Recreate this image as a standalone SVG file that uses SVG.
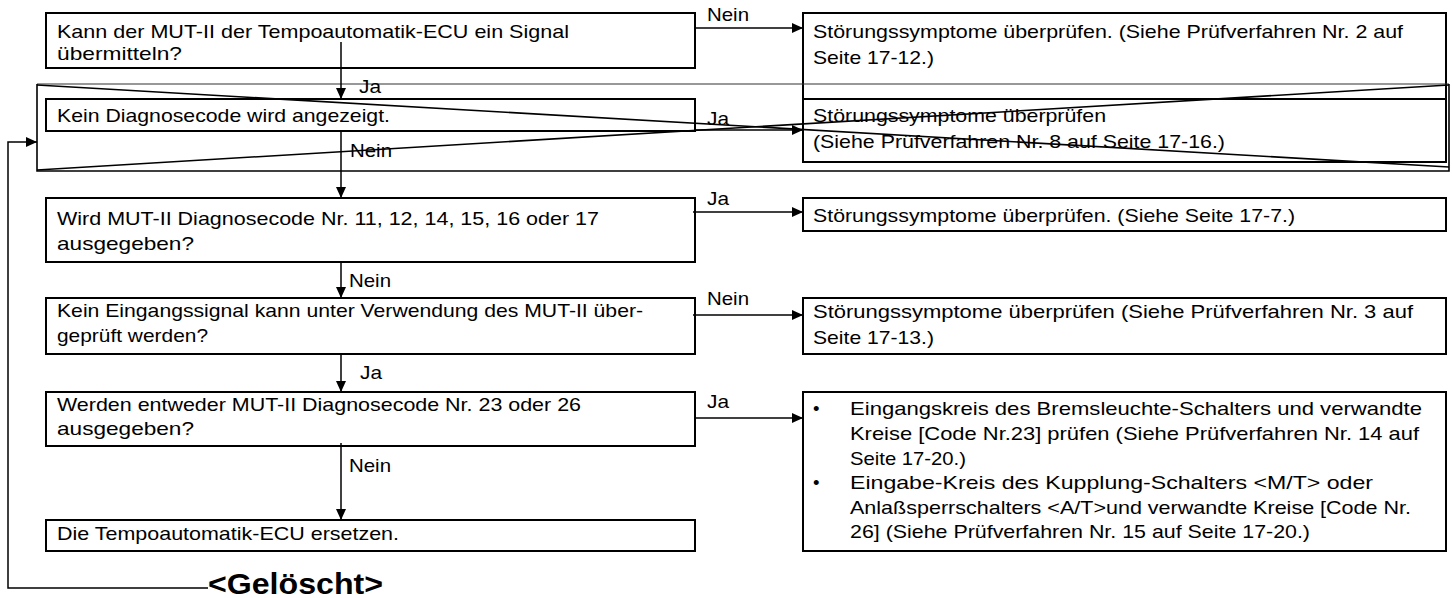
<svg xmlns="http://www.w3.org/2000/svg" width="1452" height="598" viewBox="0 0 1452 598">
<style>
.box{fill:#fff;stroke:#000;stroke-width:2}
.t{font-family:"Liberation Sans",Arial,sans-serif;font-size:18.5px;fill:#000}
.lbl{font-family:"Liberation Sans",Arial,sans-serif;font-size:18.5px;fill:#000}
.big{font-family:"Liberation Sans",Arial,sans-serif;font-size:30px;font-weight:bold;fill:#000}
.c{stroke:#000;stroke-width:1.5;fill:none}
.x{stroke:#000;stroke-width:1.6;fill:none}
</style>
<defs>
<marker id="ah" markerUnits="userSpaceOnUse" markerWidth="11" markerHeight="10" refX="11" refY="5" orient="auto">
<path d="M0,0 L11,5 L0,10 z" fill="#000"/>
</marker>
</defs>
<rect width="1452" height="598" fill="#fff"/>

<g id="q1">
<rect class="box" x="46" y="13" width="649" height="55"/>
<text class="t" x="57" y="38" textLength="512" lengthAdjust="spacingAndGlyphs">Kann der MUT-II der Tempoautomatik-ECU ein Signal</text>
<text class="t" x="57" y="60" textLength="125" lengthAdjust="spacingAndGlyphs">übermitteln?</text>
</g>
<g id="r1">
<rect class="box" x="803" y="13" width="643" height="86"/>
<text class="t" x="813" y="38" textLength="590" lengthAdjust="spacingAndGlyphs">Störungssymptome überprüfen. (Siehe Prüfverfahren Nr. 2 auf</text>
<text class="t" x="813" y="64" textLength="121" lengthAdjust="spacingAndGlyphs">Seite 17-12.)</text>
</g>
<g id="q2">
<rect class="box" x="46" y="99" width="649" height="32"/>
<text class="t" x="57" y="122" textLength="333" lengthAdjust="spacingAndGlyphs">Kein Diagnosecode wird angezeigt.</text>
</g>
<g id="r2">
<rect class="box" x="803" y="99" width="643" height="63"/>
<text class="t" x="813" y="122" textLength="293" lengthAdjust="spacingAndGlyphs">Störungssymptome überprüfen</text>
<text class="t" x="813" y="148" textLength="412" lengthAdjust="spacingAndGlyphs">(Siehe Prüfverfahren Nr. 8 auf Seite 17-16.)</text>
</g>
<g id="q3">
<rect class="box" x="46" y="198" width="649" height="64"/>
<text class="t" x="57" y="225" textLength="542" lengthAdjust="spacingAndGlyphs">Wird MUT-II Diagnosecode Nr. 11, 12, 14, 15, 16 oder 17</text>
<text class="t" x="57" y="250" textLength="137" lengthAdjust="spacingAndGlyphs">ausgegeben?</text>
</g>
<g id="r3">
<rect class="box" x="803" y="198" width="643" height="33"/>
<text class="t" x="813" y="222" textLength="482" lengthAdjust="spacingAndGlyphs">Störungssymptome überprüfen. (Siehe Seite 17-7.)</text>
</g>
<g id="q4">
<rect class="box" x="46" y="298" width="649" height="56"/>
<text class="t" x="57" y="317" textLength="586" lengthAdjust="spacingAndGlyphs">Kein Eingangssignal kann unter Verwendung des MUT-II über-</text>
<text class="t" x="57" y="342" textLength="151" lengthAdjust="spacingAndGlyphs">geprüft werden?</text>
</g>
<g id="r4">
<rect class="box" x="803" y="298" width="643" height="56"/>
<text class="t" x="813" y="318" textLength="600" lengthAdjust="spacingAndGlyphs">Störungssymptome überprüfen (Siehe Prüfverfahren Nr. 3 auf</text>
<text class="t" x="813" y="344" textLength="121" lengthAdjust="spacingAndGlyphs">Seite 17-13.)</text>
</g>
<g id="q5">
<rect class="box" x="46" y="392" width="649" height="54"/>
<text class="t" x="57" y="411" textLength="524" lengthAdjust="spacingAndGlyphs">Werden entweder MUT-II Diagnosecode Nr. 23 oder 26</text>
<text class="t" x="57" y="435" textLength="137" lengthAdjust="spacingAndGlyphs">ausgegeben?</text>
</g>
<g id="r5">
<rect class="box" x="803" y="392" width="643" height="159"/>
<text class="t" x="813" y="415">•</text>
<text class="t" x="850" y="415" textLength="572" lengthAdjust="spacingAndGlyphs">Eingangskreis des Bremsleuchte-Schalters und verwandte</text>
<text class="t" x="850" y="440" textLength="569" lengthAdjust="spacingAndGlyphs">Kreise [Code Nr.23] prüfen (Siehe Prüfverfahren Nr. 14 auf</text>
<text class="t" x="850" y="465" textLength="116" lengthAdjust="spacingAndGlyphs">Seite 17-20.)</text>
<text class="t" x="813" y="489">•</text>
<text class="t" x="850" y="489" textLength="523" lengthAdjust="spacingAndGlyphs">Eingabe-Kreis des Kupplung-Schalters &lt;M/T&gt; oder</text>
<text class="t" x="850" y="514" textLength="561" lengthAdjust="spacingAndGlyphs">Anlaßsperrschalters &lt;A/T&gt;und verwandte Kreise [Code Nr.</text>
<text class="t" x="850" y="538" textLength="460" lengthAdjust="spacingAndGlyphs">26] (Siehe Prüfverfahren Nr. 15 auf Seite 17-20.)</text>
</g>
<g id="q6">
<rect class="box" x="46" y="520" width="649" height="31"/>
<text class="t" x="57" y="540" textLength="342" lengthAdjust="spacingAndGlyphs">Die Tempoautomatik-ECU ersetzen.</text>
</g>

<g id="deleted">
<line x1="37" y1="84" x2="1449" y2="84" stroke="#333" stroke-width="1.2"/>
<polyline class="x" points="37,84 37,171 1449,171 1449,84" stroke-width="2"/>
<line class="x" x1="37" y1="85" x2="1449" y2="167"/>
<line class="x" x1="37" y1="170" x2="1449" y2="85"/>
<text class="big" x="208" y="594" textLength="175" lengthAdjust="spacingAndGlyphs">&lt;Gelöscht&gt;</text>
</g>

<g id="connectors">
<line class="c" x1="341" y1="42" x2="341" y2="99" marker-end="url(#ah)"/>
<line class="c" x1="695" y1="28" x2="803" y2="28" marker-end="url(#ah)"/>
<line class="c" x1="695" y1="130" x2="803" y2="130" marker-end="url(#ah)"/>
<line class="c" x1="341" y1="131" x2="341" y2="198" marker-end="url(#ah)"/>
<line class="c" x1="693" y1="212" x2="803" y2="212" marker-end="url(#ah)"/>
<line class="c" x1="341" y1="262" x2="341" y2="298" marker-end="url(#ah)"/>
<line class="c" x1="693" y1="315" x2="803" y2="315" marker-end="url(#ah)"/>
<line class="c" x1="341" y1="354" x2="341" y2="392" marker-end="url(#ah)"/>
<line class="c" x1="695" y1="418" x2="803" y2="418" marker-end="url(#ah)"/>
<line class="c" x1="341" y1="443" x2="341" y2="520" marker-end="url(#ah)"/>
<polyline class="c" points="208,588 8,588 8,142 37,142" marker-end="url(#ah)"/>
<text class="lbl" x="707" y="21" textLength="42" lengthAdjust="spacingAndGlyphs">Nein</text>
<text class="lbl" x="359" y="93" textLength="22" lengthAdjust="spacingAndGlyphs">Ja</text>
<text class="lbl" x="707" y="125" textLength="22" lengthAdjust="spacingAndGlyphs">Ja</text>
<text class="lbl" x="350" y="157" textLength="42" lengthAdjust="spacingAndGlyphs">Nein</text>
<text class="lbl" x="707" y="205" textLength="22" lengthAdjust="spacingAndGlyphs">Ja</text>
<text class="lbl" x="349" y="287" textLength="42" lengthAdjust="spacingAndGlyphs">Nein</text>
<text class="lbl" x="707" y="305" textLength="42" lengthAdjust="spacingAndGlyphs">Nein</text>
<text class="lbl" x="360" y="379" textLength="22" lengthAdjust="spacingAndGlyphs">Ja</text>
<text class="lbl" x="707" y="408" textLength="22" lengthAdjust="spacingAndGlyphs">Ja</text>
<text class="lbl" x="349" y="472" textLength="42" lengthAdjust="spacingAndGlyphs">Nein</text>
</g>
</svg>
